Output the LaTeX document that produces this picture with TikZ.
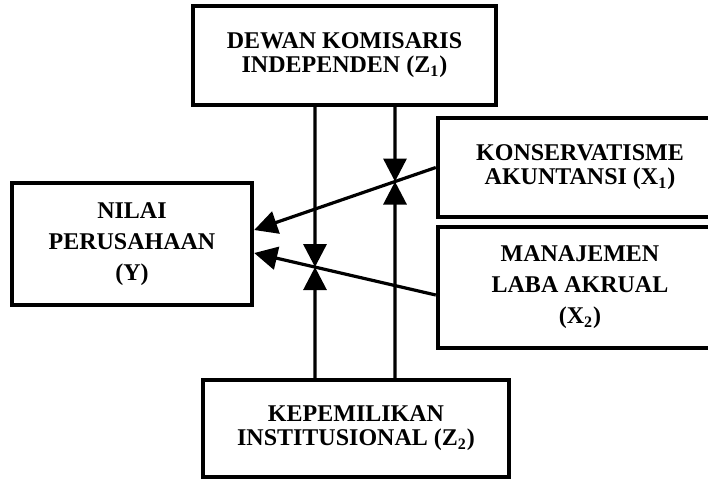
\documentclass[tikz,border=0pt]{standalone}
\usepackage{fontspec}
\setmainfont{Liberation Serif}
\usetikzlibrary{arrows.meta,positioning,calc}

\begin{document}
\begin{tikzpicture}[x=0.5pt, y=-0.5pt,
  varbox/.style={draw, line width=2.2pt, align=center, inner sep=0pt,
    font=\bfseries\fontsize{12}{12}\selectfont},
  tallbox/.style={varbox, font=\bfseries\fontsize{12}{15.5}\selectfont},
  link/.style={line width=1.6pt, -{Triangle[length=11.5pt, width=11.5pt]}}
]
\useasboundingbox (0,0) rectangle (708,479);

% Variable boxes
\node[varbox, minimum width=151.5pt, minimum height=49.5pt] (z1) at (344.5,55.5)
  {DEWAN KOMISARIS\\INDEPENDEN (Z\textsubscript{1})};
\node[tallbox, minimum width=120pt, minimum height=61pt] (y) at (132,244)
  {NILAI\\PERUSAHAAN\\(Y)};
\node[varbox, minimum width=142pt, minimum height=49.5pt] (x1) at (580,167.5)
  {KONSERVATISME\\AKUNTANSI (X\textsubscript{1})};
\node[tallbox, minimum width=142pt, minimum height=60.5pt] (x2) at (580,287.5)
  {MANAJEMEN\\LABA AKRUAL\\(X\textsubscript{2})};
\node[varbox, minimum width=153pt, minimum height=48.5pt] (z2) at (356,428.5)
  {KEPEMILIKAN\\INSTITUSIONAL (Z\textsubscript{2})};

% Ends of the direct paths
\coordinate (x1s) at (x1.west);
\coordinate (x2s) at ($(x2.west)+(0,7.5)$);
\coordinate (yx1) at ($(y.east)+(0,-14)$);
\coordinate (yx2) at ($(y.east)+(0,9)$);

% Columns of the moderating lines
\coordinate (colA) at (315,0);
\coordinate (colAb) at (315,479);
\coordinate (colB) at (395,0);
\coordinate (colBb) at (395,479);
\coordinate (mA) at (intersection of x2s--yx2 and colA--colAb);
\coordinate (mB) at (intersection of x1s--yx1 and colB--colBb);

% Direct paths
\draw[link] (x1s) -- (yx1);
\draw[link] (x2s) -- (yx2);

% Moderating paths
\draw[link] (z1.south -| colA) -- (mA);
\draw[link] (z2.north -| colA) -- (mA);
\draw[link] (z1.south -| colB) -- (mB);
\draw[link] (z2.north -| colB) -- (mB);

\end{tikzpicture}
\end{document}
